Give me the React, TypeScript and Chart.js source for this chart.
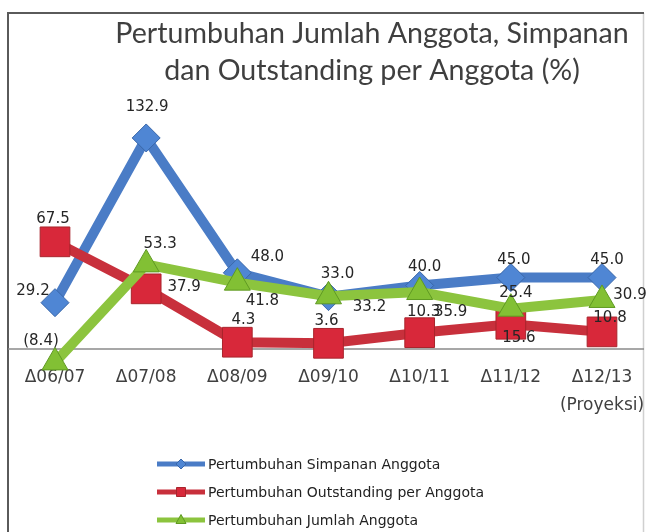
import React, { useEffect, useRef } from "react";
import { Chart, registerables } from "chart.js";

Chart.register(...registerables);

// ---------- data ----------
const CATEGORIES = ["Δ06/07", "Δ07/08", "Δ08/09", "Δ09/10", "Δ10/11", "Δ11/12", "Δ12/13"];
const CATEGORY_SUBLABELS = ["", "", "", "", "", "", "(Proyeksi)"];
const SIMPANAN = [29.2, 132.9, 48.0, 33.0, 40.0, 45.0, 45.0];
const OUTSTANDING = [67.5, 37.9, 4.3, 3.6, 10.3, 15.6, 10.8];
const JUMLAH = [-8.4, 53.3, 41.8, 33.2, 35.9, 25.4, 30.9];
const SERIES_NAMES = [
  "Pertumbuhan Simpanan Anggota",
  "Pertumbuhan Outstanding per Anggota",
  "Pertumbuhan Jumlah Anggota",
];
const TITLE_LINES = ["Pertumbuhan Jumlah Anggota, Simpanan", "dan Outstanding per Anggota (%)"];

// ---------- style ----------
const BLUE = "#4a7cc6";
const RED = "#c8303c";
const GREEN = "#8cc43e";
// data-label offsets (px) relative to each point, per series
const LABEL_OFFSETS = [
  [[-22, -12], [1, -31], [30, -16], [9, -23], [5, -18], [3, -17], [5, -17]],
  [[-2, -23], [38, -2], [6, -22], [-2, -22], [4, -21], [8, 14], [8, -14]],
  [[-14, -21], [14, -20], [25, 18], [41, 11], [31, 20], [5, -16], [28, -5]],
];

const fmt = (v: number) => (v < 0 ? `(${Math.abs(v).toFixed(1)})` : v.toFixed(1));

const decorPlugin = {
  id: "decor",
  beforeDraw(chart: any) {
    const { ctx, width, height } = chart;
    ctx.save();
    ctx.fillStyle = "#ffffff";
    ctx.fillRect(0, 0, width, height);
    // frame
    ctx.strokeStyle = "#d0d0d0";
    ctx.lineWidth = 1.5;
    ctx.beginPath();
    ctx.moveTo(643.5, 13);
    ctx.lineTo(643.5, height);
    ctx.stroke();
    ctx.strokeStyle = "#5a5a5a";
    ctx.lineWidth = 2;
    ctx.beginPath();
    ctx.moveTo(8, height);
    ctx.lineTo(8, 13);
    ctx.lineTo(644, 13);
    ctx.stroke();
    // title
    ctx.fillStyle = "#3f3f3f";
    ctx.font = "28.6px Lato, 'Open Sans', sans-serif";
    ctx.textAlign = "center";
    ctx.textBaseline = "middle";
    ctx.fillText(TITLE_LINES[0], 372, 34);
    ctx.fillText(TITLE_LINES[1], 372, 71);
    ctx.restore();
  },
  beforeDatasetsDraw(chart: any) {
    const { ctx } = chart;
    const xs = chart.scales.x;
    const ys = chart.scales.y;
    const y0 = ys.getPixelForValue(0);
    ctx.save();
    ctx.strokeStyle = "#8a8a8a";
    ctx.lineWidth = 1.5;
    ctx.beginPath();
    ctx.moveTo(8, y0);
    ctx.lineTo(644, y0);
    ctx.stroke();
    ctx.fillStyle = "#404040";
    ctx.font = "17px 'DejaVu Sans', sans-serif";
    ctx.textAlign = "center";
    ctx.textBaseline = "middle";
    CATEGORIES.forEach((c, i) => {
      const x = xs.getPixelForValue(i);
      ctx.fillText(c, x, y0 + 29);
      if (CATEGORY_SUBLABELS[i]) ctx.fillText(CATEGORY_SUBLABELS[i], x, y0 + 57);
    });
    ctx.restore();
  },
  afterDatasetsDraw(chart: any) {
    const { ctx } = chart;
    ctx.save();
    ctx.fillStyle = "#262626";
    ctx.font = "15px 'DejaVu Sans', sans-serif";
    ctx.textAlign = "center";
    ctx.textBaseline = "middle";
    chart.data.datasets.forEach((ds: any, di: number) => {
      const meta = chart.getDatasetMeta(di);
      meta.data.forEach((pt: any, i: number) => {
        const [dx, dy] = LABEL_OFFSETS[di][i];
        ctx.fillText(fmt(ds.data[i]), pt.x + dx, pt.y + dy);
      });
    });
    ctx.restore();
  },
  afterDraw(chart: any) {
    const { ctx } = chart;
    ctx.save();
    const rows = [464, 492, 520];
    chart.data.datasets.forEach((ds: any, di: number) => {
      const y = rows[di];
      ctx.strokeStyle = ds.borderColor;
      ctx.lineWidth = 5;
      ctx.beginPath();
      ctx.moveTo(157, y);
      ctx.lineTo(205, y);
      ctx.stroke();
      ctx.fillStyle = ds.pointBackgroundColor;
      ctx.strokeStyle = ds.pointBorderColor;
      ctx.lineWidth = 1;
      ctx.beginPath();
      const cx = 181;
      if (ds.pointStyle === "rectRot") {
        ctx.moveTo(cx, y - 5);
        ctx.lineTo(cx + 5, y);
        ctx.lineTo(cx, y + 5);
        ctx.lineTo(cx - 5, y);
        ctx.closePath();
      } else if (ds.pointStyle === "rect") {
        ctx.rect(cx - 4.5, y - 4.5, 9, 9);
      } else {
        ctx.moveTo(cx, y - 5.5);
        ctx.lineTo(cx + 5, y + 3.5);
        ctx.lineTo(cx - 5, y + 3.5);
        ctx.closePath();
      }
      ctx.fill();
      ctx.stroke();
      ctx.fillStyle = "#222222";
      ctx.font = "14px 'DejaVu Sans', sans-serif";
      ctx.textAlign = "left";
      ctx.textBaseline = "middle";
      ctx.fillText(ds.label, 208, y + 1);
    });
    ctx.restore();
  },
};

export default function App() {
  const ref = useRef<HTMLCanvasElement | null>(null);
  useEffect(() => {
    document.body.style.margin = "0";
    if (!ref.current) return;
    const chart = new Chart(ref.current, {
      type: "line",
      data: {
        labels: CATEGORIES,
        datasets: [
          {
            label: SERIES_NAMES[0],
            data: SIMPANAN,
            borderColor: BLUE,
            backgroundColor: BLUE,
            borderWidth: 10,
            pointStyle: "rectRot",
            pointRadius: 14,
            pointBackgroundColor: "#4f86d4",
            pointBorderColor: "#3a68aa",
            pointBorderWidth: 1,
            clip: false,
            order: 2,
          } as any,
          {
            label: SERIES_NAMES[1],
            data: OUTSTANDING,
            borderColor: RED,
            backgroundColor: RED,
            borderWidth: 10,
            pointStyle: "rect",
            pointRadius: 21,
            pointBackgroundColor: "#d8283a",
            pointBorderColor: "#a8242c",
            pointBorderWidth: 1,
            clip: false,
            order: 1,
          } as any,
          {
            label: SERIES_NAMES[2],
            data: JUMLAH,
            borderColor: GREEN,
            backgroundColor: GREEN,
            borderWidth: 10,
            pointStyle: "triangle",
            pointRadius: 15,
            pointBackgroundColor: "#82c034",
            pointBorderColor: "#5f9a22",
            pointBorderWidth: 1,
            clip: false,
            order: 0,
          } as any,
        ],
      },
      options: {
        responsive: false,
        animation: false,
        devicePixelRatio: 1,
        events: [],
        layout: { padding: { left: 55, right: 45, top: 110.8, bottom: 151.2 } },
        scales: {
          x: { display: false, offset: false },
          y: { display: false, min: -20, max: 150 },
        },
        plugins: {
          legend: { display: false },
          title: { display: false },
          tooltip: { enabled: false },
        },
      },
      plugins: [decorPlugin],
    });
    return () => chart.destroy();
  }, []);
  return (
    <div style={{ width: 647, height: 532, lineHeight: 0 }}>
      <canvas ref={ref} width={647} height={532} style={{ display: "block" }} />
    </div>
  );
}
